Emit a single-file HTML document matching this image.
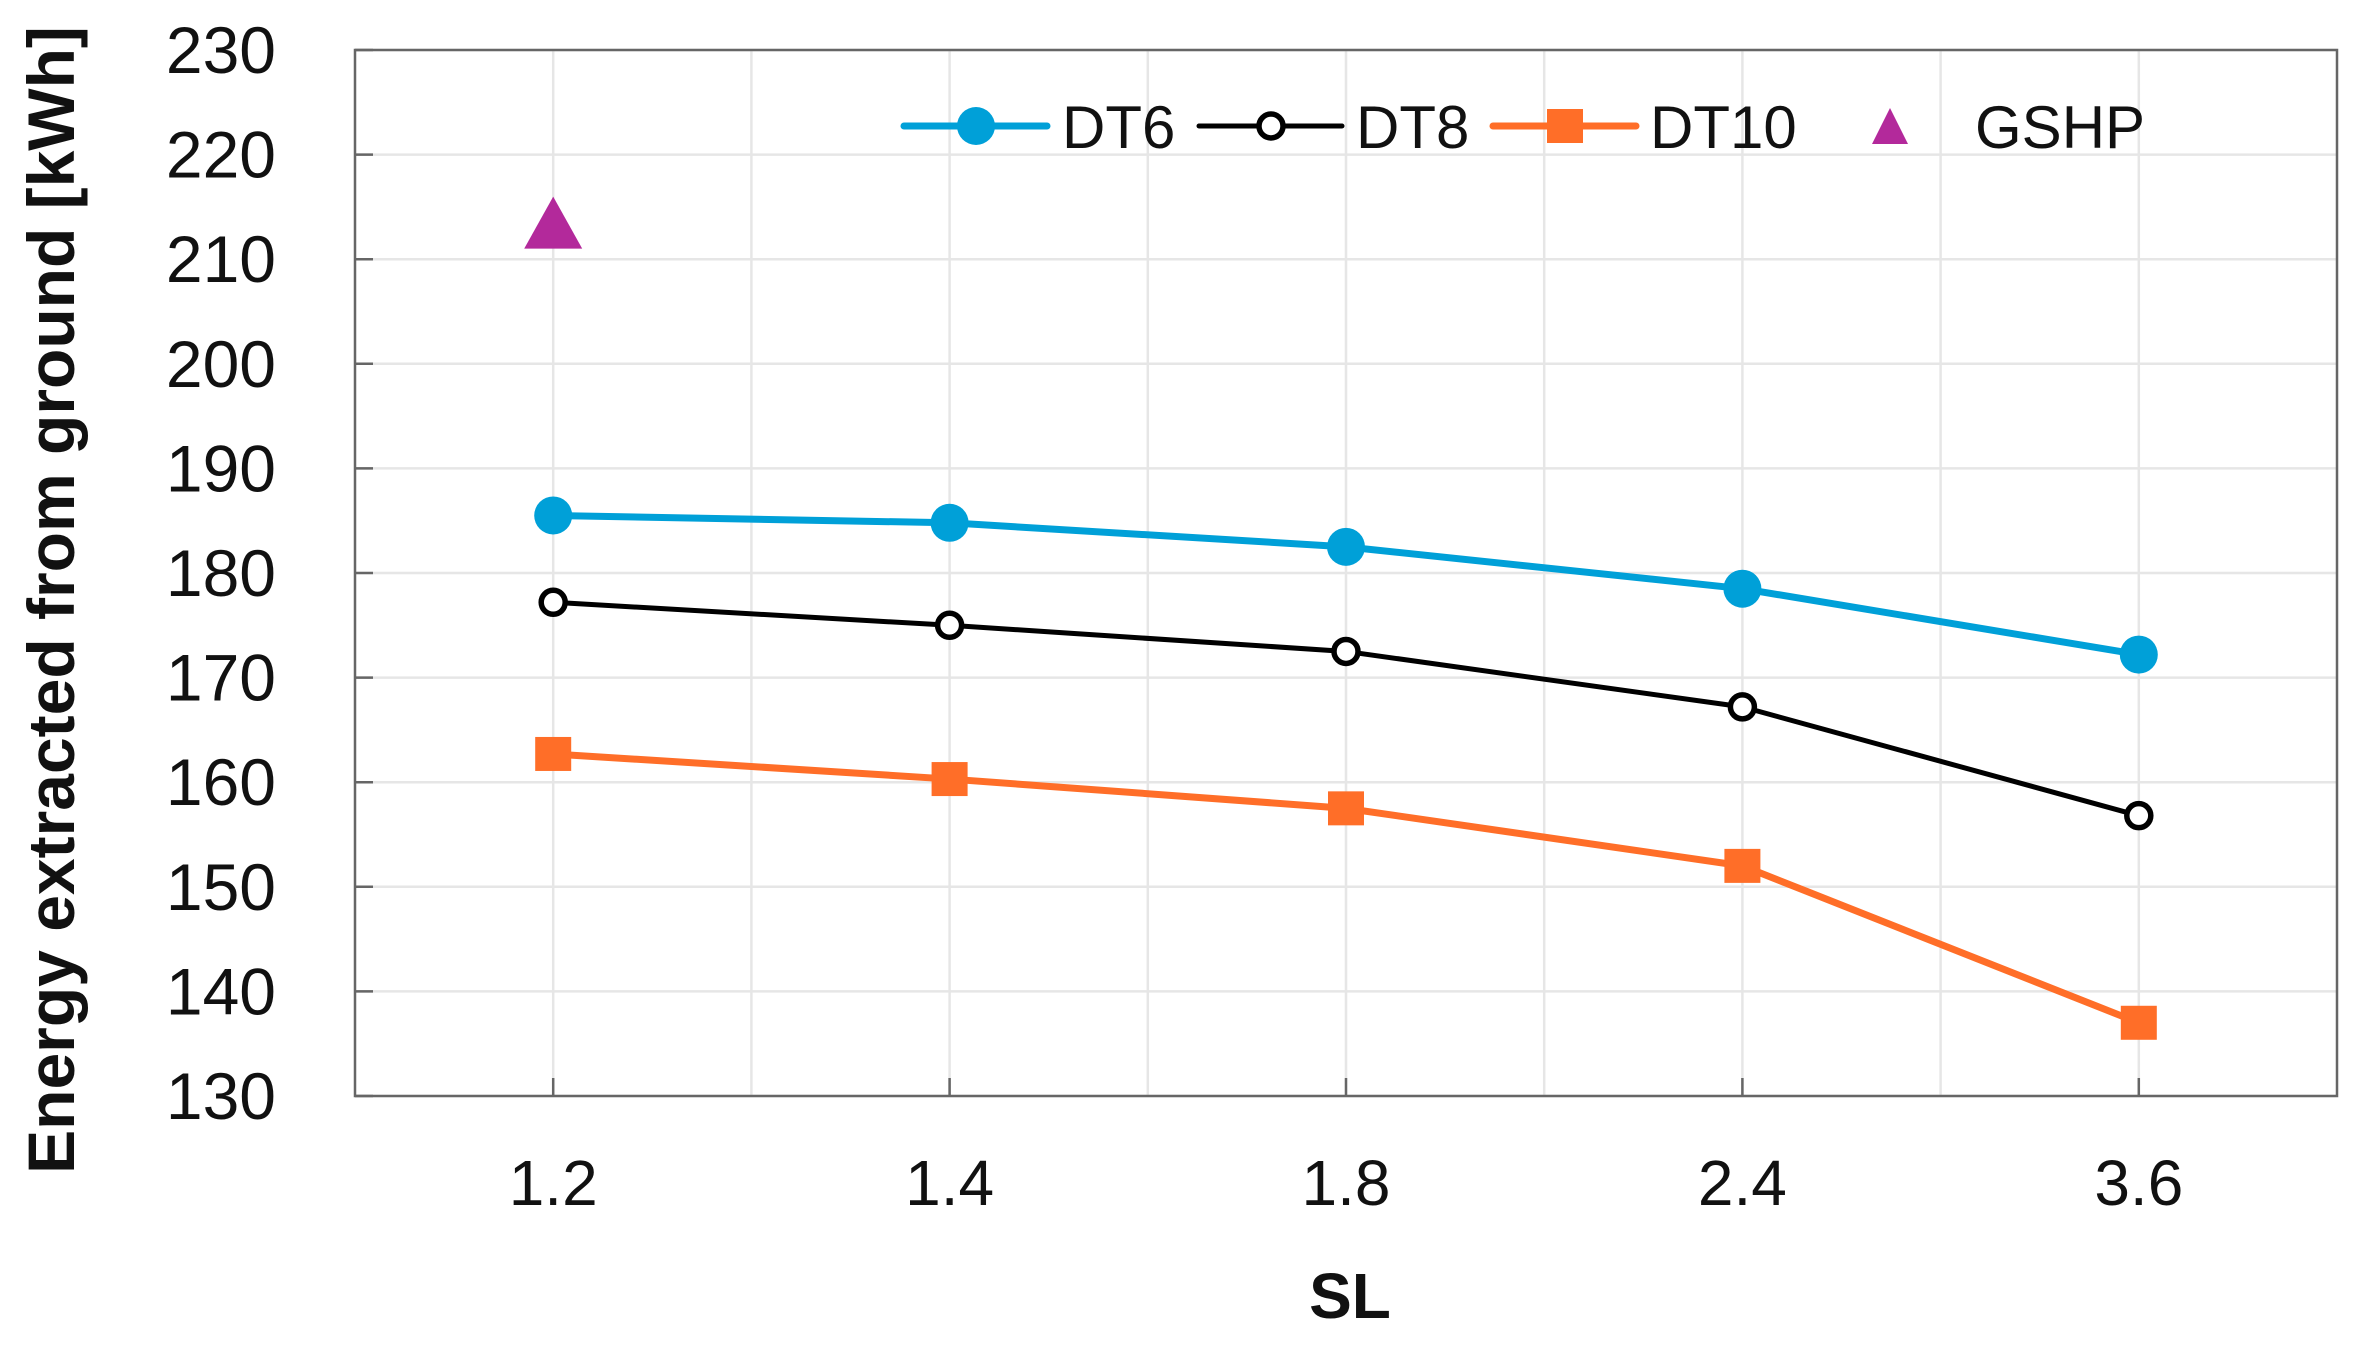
<!DOCTYPE html>
<html><head><meta charset="utf-8"><style>
html,body{margin:0;padding:0;background:#fff;}
svg{display:block;font-family:"Liberation Sans",Arial,sans-serif;}
</style></head><body>
<svg id="chart" width="2360" height="1349" viewBox="0 0 2360 1349" xmlns="http://www.w3.org/2000/svg">
<g id="grid"></g>
<rect x="355" y="50" width="1982" height="1046" fill="none" stroke="#666" stroke-width="2.5"/>
<g id="axes"></g>
<g id="series"></g>
<g id="legend"></g>
<text transform="translate(74,600) rotate(-90)" text-anchor="middle" font-size="66" font-weight="bold" fill="#111">Energy extracted from ground [kWh]</text>
<text x="1350" y="1318" text-anchor="middle" font-size="64" font-weight="bold" fill="#111">SL</text>
</svg>
<script>
const categories = ["1.2","1.4","1.8","2.4","3.6"];
const dt6 = [185.5,184.8,182.5,178.5,172.2];
const dt8 = [177.2,175.0,172.5,167.2,156.8];
const dt10 = [162.7,160.3,157.5,152.0,137.0];
const gshpCat = [0];
const gshp = [213.5];
const yTicks = [130,140,150,160,170,180,190,200,210,220,230];

const NS="http://www.w3.org/2000/svg";
const L=355,R=2337,T=50,B=1096;
const yMin=130,yMax=230;
const step=(R-L)/categories.length;
function xs(i){return L+step*(i+0.5);}
function ys(v){return B-(v-yMin)/(yMax-yMin)*(B-T);}
function mk(tag,attrs,parent){const e=document.createElementNS(NS,tag);for(const k in attrs)e.setAttribute(k,attrs[k]);parent.appendChild(e);return e;}
const grid=document.getElementById('grid'),axes=document.getElementById('axes'),ser=document.getElementById('series'),leg=document.getElementById('legend');

yTicks.forEach(t=>{
  const y=ys(t);
  const g=mk('line',{x1:L,x2:R,y1:y,y2:y,stroke:'#e6e6e6','stroke-width':2.5},grid);
  
  
  const tk=mk('line',{x1:L,x2:L+18,y1:y,y2:y,stroke:'#666','stroke-width':2.5},axes);
  
  
  const tx=mk('text',{x:276,y:y+23,'text-anchor':'end','font-size':66,fill:'#111'},axes);
  tx.textContent=t;
  
  
});
for(let i=1;i<categories.length*2;i++){
  const x=L+step*i/2;
  const g=mk('line',{x1:x,x2:x,y1:T,y2:B,stroke:'#e6e6e6','stroke-width':2.5},grid);
  
  
}
categories.forEach((c,i)=>{
  const x=xs(i);
  const tk=mk('line',{x1:x,x2:x,y1:B-18,y2:B,stroke:'#666','stroke-width':2.5},axes);
  
  
  const tx=mk('text',{x:x,y:1205,'text-anchor':'middle','font-size':64,fill:'#111'},axes);
  tx.textContent=c;
  
  
});

function marker(type,cx,cy,color,parent,name){
  let e;
  if(type==='dot') e=mk('circle',{cx:cx,cy:cy,r:19,fill:color},parent);
  else if(type==='open') e=mk('circle',{cx:cx,cy:cy,r:12,fill:'#fff',stroke:color,'stroke-width':5.5},parent);
  else if(type==='sq') e=mk('rect',{x:cx-18,y:cy-17,width:36,height:34,fill:color},parent);
  else e=mk('polygon',{points:`${cx},${cy-30} ${cx+29},${cy+22} ${cx-29},${cy+22}`,fill:color},parent);
  
  
  return e;
}
function drawSeries(vals,color,w,type,name){
  const pl=mk('polyline',{points:vals.map((v,i)=>xs(i)+','+ys(v)).join(' '),fill:'none',stroke:color,'stroke-width':w,'stroke-linejoin':'round'},ser);
  
  
  vals.forEach((v,i)=>marker(type,xs(i),ys(v),color,ser,name+'-point'));
}
drawSeries(dt6,'#00a0d8',7,'dot','dt6');
drawSeries(dt8,'#000',5,'open','dt8');
drawSeries(dt10,'#ff6e28',7,'sq','dt10');
gshp.forEach((v,i)=>marker('tri',xs(gshpCat[i]),ys(v)+4,'#b3299b',ser,'gshp-point'));

const ly=126;
const items=[['DT6','#00a0d8',7,'dot',904,1062],['DT8','#000',5,'open',1199,1356],['DT10','#ff6e28',7,'sq',1493,1650]];
items.forEach(it=>{
  const [lab,col,w,type,x1,tx]=it;
  const g=mk('g',{},leg);
  
  
  mk('line',{x1:x1,x2:x1+143,y1:ly,y2:ly,stroke:col,'stroke-width':w,'stroke-linecap':'round'},g);
  marker(type,x1+72,ly,col,g,'legend-marker');
  const t=mk('text',{x:tx,y:ly+22,'font-size':60,fill:'#111'},g);
  t.textContent=lab;
});
const gg=mk('g',{},leg);


mk('polygon',{points:`1890,${ly-18} 1908,${ly+18} 1872,${ly+18}`,fill:'#b3299b'},gg);
const gt=mk('text',{x:1975,y:ly+22,'font-size':60,fill:'#111'},gg);
gt.textContent='GSHP';
</script>
</body></html>
